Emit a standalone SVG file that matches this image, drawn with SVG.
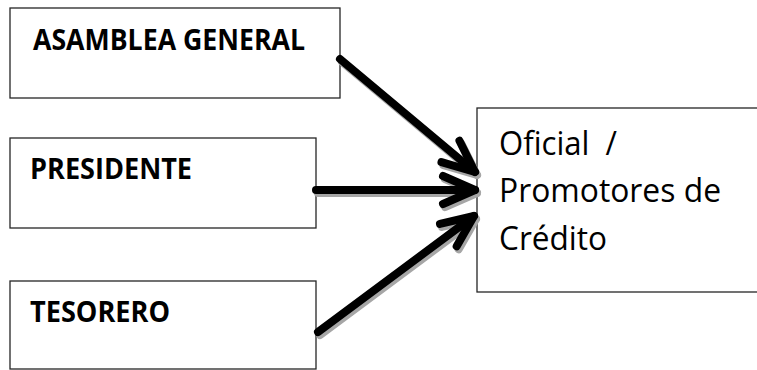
<svg xmlns="http://www.w3.org/2000/svg" width="757" height="370" viewBox="0 0 757 370">
<style>
.box{fill:#fff;stroke:#262626;stroke-width:1.3}
.lbl{font-family:"Open Sans","Noto Sans","Liberation Sans",sans-serif;font-weight:bold;font-size:29px;fill:#000}
.txt{font-family:"Open Sans","Noto Sans","Liberation Sans",sans-serif;font-size:32px;fill:#000;white-space:pre}
.ln{fill:none;stroke:#000;stroke-width:8;stroke-linecap:round}
.sh{fill:none;stroke:#a6a6a6;stroke-width:8;stroke-linecap:round}
</style>
<defs>
<marker id="ah" markerUnits="userSpaceOnUse" viewBox="-40 -20 44 40" refX="0" refY="0" markerWidth="44" markerHeight="40" orient="auto" overflow="visible">
<path d="M-32,-14 L0,0 L-32,14" fill="none" stroke="#000" stroke-width="8" stroke-linecap="round" stroke-linejoin="round"/>
</marker>
<marker id="ahs" markerUnits="userSpaceOnUse" viewBox="-40 -20 44 40" refX="0" refY="0" markerWidth="44" markerHeight="40" orient="auto" overflow="visible">
<path d="M-32,-14 L0,0 L-32,14" fill="none" stroke="#a6a6a6" stroke-width="8" stroke-linecap="round" stroke-linejoin="round"/>
</marker>
</defs>
<g id="asamblea"><rect class="box" x="10" y="8" width="330" height="90"/><text class="lbl" x="33" y="50" textLength="272" lengthAdjust="spacingAndGlyphs">ASAMBLEA GENERAL</text></g>
<g id="presidente"><rect class="box" x="10" y="138" width="306" height="90"/><text class="lbl" x="30" y="179" textLength="162" lengthAdjust="spacingAndGlyphs">PRESIDENTE</text></g>
<g id="tesorero"><rect class="box" x="10" y="281" width="306" height="88"/><text class="lbl" x="30" y="322" textLength="140" lengthAdjust="spacingAndGlyphs">TESORERO</text></g>
<g id="oficial"><rect class="box" x="477" y="108" width="300" height="184"/>
<text class="txt" x="499" y="155" textLength="118" lengthAdjust="spacingAndGlyphs">Oficial  /</text>
<text class="txt" x="499" y="202" textLength="222" lengthAdjust="spacingAndGlyphs">Promotores de</text>
<text class="txt" x="499" y="250" textLength="108" lengthAdjust="spacingAndGlyphs">Crédito</text></g>
<g id="connectors">
<g transform="translate(2,3)">
<line class="sh" x1="340" y1="59" x2="475" y2="172" marker-end="url(#ahs)"/>
<line class="sh" x1="316" y1="190" x2="475" y2="190" marker-end="url(#ahs)"/>
<line class="sh" x1="318" y1="332" x2="474" y2="216" marker-end="url(#ahs)"/>
</g>
<line class="ln" x1="340" y1="59" x2="475" y2="172" marker-end="url(#ah)"/>
<line class="ln" x1="316" y1="190" x2="475" y2="190" marker-end="url(#ah)"/>
<line class="ln" x1="318" y1="332" x2="474" y2="216" marker-end="url(#ah)"/>
</g>
</svg>
